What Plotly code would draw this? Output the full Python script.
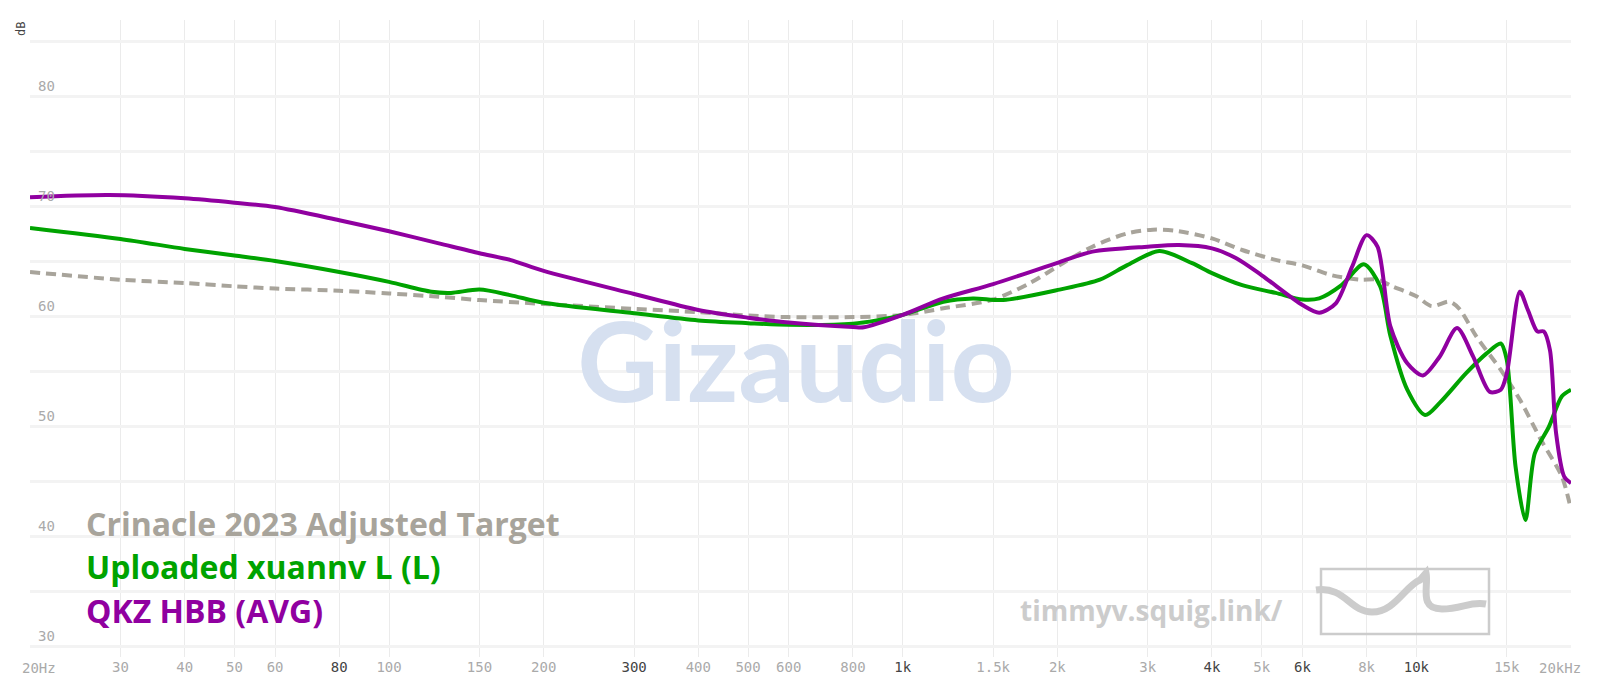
import numpy as np
import plotly.graph_objects as go

# ---------------- data ----------------
target_freq = [20, 30, 40, 50, 60, 80, 100, 125, 150, 200, 300, 400, 500, 600, 800, 1000,
               1200, 1500, 1770, 2050, 2340, 2730, 3070, 3400, 4000, 4580, 5320, 6000, 6850,
               7750, 8400, 8980, 10000, 10700, 11600, 12100, 13100, 14600, 15900, 17500,
               19200, 20000]
target_db = [64.0, 63.3, 63.0, 62.7, 62.5, 62.3, 62.05, 61.75, 61.45, 61.1, 60.65, 60.35,
             60.05, 59.9, 59.9, 60.1, 60.7, 61.5, 63.0, 64.8, 66.3, 67.5, 67.85, 67.75, 67.05,
             66.0, 65.1, 64.6, 63.7, 63.3, 63.3, 62.7, 61.8, 60.9, 61.3, 60.7, 58.1, 55.1,
             52.4, 48.7, 45.4, 42.4]

green_freq = [20, 30, 40, 50, 60, 80, 100, 121, 132, 150, 172, 200, 300, 400, 500, 600, 800,
              890, 1000, 1200, 1370, 1570, 2020, 2420, 2730, 3160, 3660, 4000, 4580, 5320,
              6000, 6470, 7150, 7900, 8500, 8900, 9600, 10400, 11100, 12500, 13700, 14600,
              15000, 15600, 16300, 17000, 18100, 19200, 20000]
green_db = [68.0, 67.0, 66.1, 65.5, 65.0, 64.0, 63.1, 62.2, 62.1, 62.4, 61.9, 61.2, 60.25,
            59.6, 59.35, 59.2, 59.3, 59.6, 60.1, 61.3, 61.6, 61.45, 62.4, 63.3, 64.6, 65.9,
            64.8, 63.9, 62.8, 62.1, 61.5, 61.6, 62.8, 64.7, 62.7, 58.2, 53.3, 51.0, 52.1,
            54.8, 56.6, 57.5, 56.0, 46.3, 41.45, 47.5, 49.9, 52.7, 53.3]

purple_freq = [20, 28.5, 40, 50, 60, 80, 100, 125, 150, 172, 200, 300, 400, 500, 600, 800,
               840, 1000, 1200, 1500, 2020, 2340, 3000, 3450, 4000, 4460, 5000, 6000, 6470,
               6970, 7500, 8000, 8400, 8900, 9600, 10300, 11100, 12000, 12900, 13900, 14600,
               15000, 15900, 16500, 17200, 17700, 18200, 18700, 19400, 20000]
purple_db = [70.8, 71.0, 70.7, 70.3, 69.9, 68.7, 67.7, 66.6, 65.7, 65.1, 64.1, 62.0, 60.55,
             59.85, 59.4, 59.0, 58.97, 60.1, 61.6, 62.9, 64.9, 65.85, 66.3, 66.45, 66.15,
             65.25, 63.7, 61.0, 60.3, 61.15, 64.5, 67.35, 66.3, 59.05, 55.7, 54.6, 56.3, 58.9,
             56.3, 53.1, 53.3, 54.8, 62.2, 60.5, 58.6, 58.6, 56.9, 49.4, 45.4, 44.8]

series_names = ["Crinacle 2023 Adjusted Target", "Uploaded xuannv L (L)", "QKZ HBB (AVG)"]

light_ticks = [30, 40, 50, 60, 100, 150, 200, 400, 500, 600, 800, 1500, 2000, 3000, 5000,
               8000, 15000]
light_labels = ["30", "40", "50", "60", "100", "150", "200", "400", "500", "600", "800",
                "1.5k", "2k", "3k", "5k", "8k", "15k"]
dark_ticks = [80, 300, 1000, 4000, 6000, 10000]
dark_labels = ["80", "300", "1k", "4k", "6k", "10k"]
edge_labels = ["20Hz", "20kHz"]
y_grid = list(range(30, 90, 5))
y_labels = [30, 40, 50, 60, 70, 80]

# ---------------- style ----------------
GRAY = "#a8a49b"
GREEN = "#00a300"
PURPLE = "#9000a0"
W, H = 1600, 692
ML, MR, MT, MB = 30, 29, 20, 35
PW, PH = W - ML - MR, H - MT - MB
MONO = "DejaVu Sans Mono"
SANS = "Open Sans"


def px(xp):
    return (xp - ML) / PW


def py(yp):
    return (H - MB - yp) / PH


fig = go.Figure()

# background watermark (behind the curves)
fig.add_trace(go.Scatter(
    x=[620], y=[54.7], mode="text", text=["<b>Gizaudio</b>"],
    textfont=dict(family="Lato", size=112, color="#d6e0f0"),
    hoverinfo="skip", showlegend=False, cliponaxis=False))

fig.add_trace(go.Scatter(
    x=target_freq, y=target_db, mode="lines", name=series_names[0],
    line=dict(color=GRAY, width=4, dash="10px,6px", shape="spline", smoothing=0.8)))
fig.add_trace(go.Scatter(
    x=green_freq, y=green_db, mode="lines", name=series_names[1],
    line=dict(color=GREEN, width=4, shape="spline", smoothing=0.8)))
fig.add_trace(go.Scatter(
    x=purple_freq, y=purple_db, mode="lines", name=series_names[2],
    line=dict(color=PURPLE, width=4, shape="spline", smoothing=0.8)))

# ticks
all_ticks = light_ticks + dark_ticks
all_text = light_labels + ['<span style="color:#444">%s</span>' % t for t in dark_labels]

shapes = []
for f in dark_ticks:
    shapes.append(dict(type="line", xref="x", yref="paper", x0=np.log10(f), x1=np.log10(f),
                       y0=0, y1=1, line=dict(color="#b4b4b4", width=1.5), layer="below"))

# squig.link logo
shapes.append(dict(type="rect", xref="paper", yref="paper",
                   x0=px(1321), x1=px(1489), y0=py(634), y1=py(569),
                   line=dict(color="#cccccc", width=2.5), layer="above"))
segs = [("M", [(1316, 590)]),
        ("C", [(1345, 586), (1350, 612), (1372, 612)]),
        ("C", [(1395, 612), (1405, 586), (1420, 580)]),
        ("L", [(1426, 573)]),
        ("C", [(1429, 586), (1418, 609), (1442, 609)]),
        ("C", [(1462, 609), (1470, 601), (1486, 604)])]
path = ""
for cmd, pts in segs:
    path += cmd + " " + " ".join("%f,%f" % (px(a), py(b)) for a, b in pts) + " "
shapes.append(dict(type="path", xref="paper", yref="paper", path=path.strip(),
                   line=dict(color="#cccccc", width=7), layer="above"))

annotations = []
for v in y_labels:
    annotations.append(dict(xref="paper", yref="y", x=px(36), y=v, xanchor="left",
                            yanchor="bottom", yshift=0, showarrow=False, text=str(v),
                            font=dict(family=MONO, size=14, color="#aaaaaa")))
edge_px = [39, 1560]
for t, xp in zip(edge_labels, edge_px):
    annotations.append(dict(xref="paper", yref="paper", x=px(xp), y=py(668), xanchor="center",
                            yanchor="middle", showarrow=False, text=t,
                            font=dict(family=MONO, size=14, color="#aaaaaa")))
annotations.append(dict(xref="paper", yref="paper", x=px(21), y=py(29), xanchor="center",
                        yanchor="middle", showarrow=False, text="dB", textangle=-90,
                        font=dict(family=MONO, size=12, color="#444444")))
leg_y = [523, 566, 610]
for name, col, yy in zip(series_names, [GRAY, GREEN, PURPLE], leg_y):
    annotations.append(dict(xref="paper", yref="paper", x=px(84), y=py(yy), xanchor="left",
                            yanchor="middle", showarrow=False, text="<b>%s</b>" % name,
                            font=dict(family=SANS, size=32, color=col)))
annotations.append(dict(xref="paper", yref="paper", x=px(1151), y=py(610), xanchor="center",
                        yanchor="middle", showarrow=False, text="<b>timmyv.squig.link/</b>",
                        font=dict(family=SANS, size=28, color="#cccccc")))

fig.update_layout(
    width=W, height=H, autosize=False,
    margin=dict(l=ML, r=MR, t=MT, b=MB, pad=0),
    paper_bgcolor="white", plot_bgcolor="white",
    showlegend=False,
    shapes=shapes, annotations=annotations,
    xaxis=dict(type="log", range=[np.log10(20), np.log10(20000)],
               tickmode="array", tickvals=all_ticks, ticktext=all_text,
               showgrid=True, gridcolor="#ebebeb", gridwidth=1.2,
               zeroline=False, showline=False, ticks="",
               tickfont=dict(family=MONO, size=14, color="#aaaaaa")),
    yaxis=dict(range=[29, 85 + 21 / 11], tickmode="array", tickvals=y_grid,
               showticklabels=False, showgrid=True, gridcolor="#f3f3f3", gridwidth=3,
               zeroline=False, showline=False, ticks=""),
)

fig.write_html("out.html", post_script="document.body.style.margin='0';",
               config={"displayModeBar": False})
